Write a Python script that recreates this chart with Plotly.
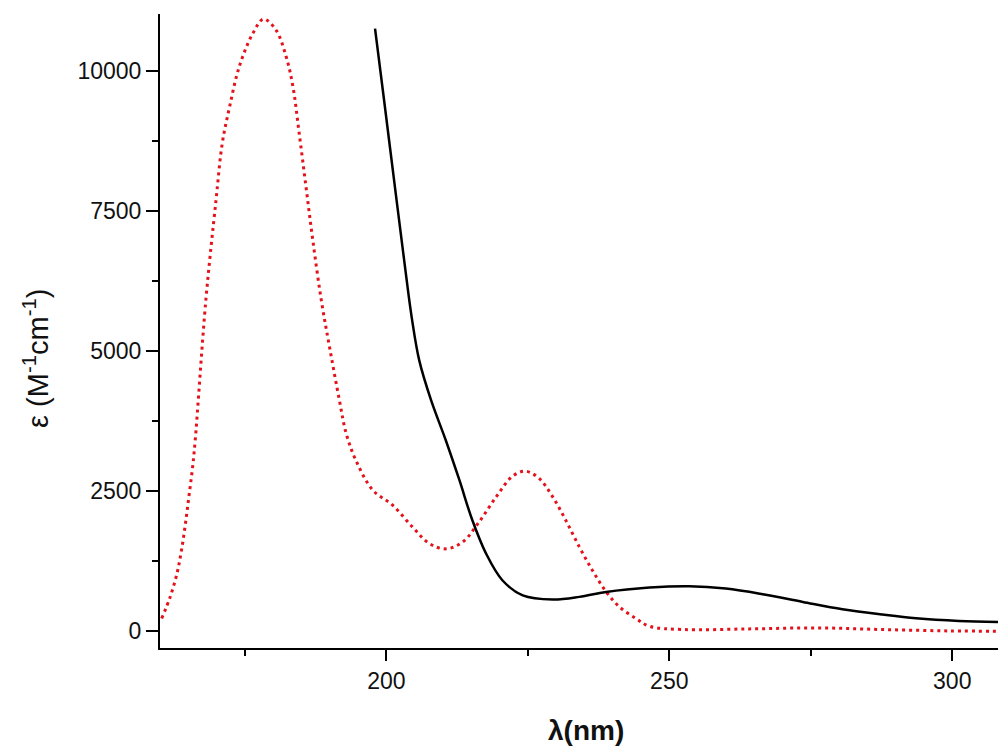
import plotly.graph_objects as go

# black solid spectrum (lambda in nm, epsilon in M^-1 cm^-1)
wl_black = [198.0, 199.6, 201.8, 203.3, 204.5, 205.8, 207.9, 210.5, 212.9, 215.2,
            217.6, 220.5, 224.1, 229.4, 234.1, 238.8, 246.5, 253.5, 260.0, 266.5,
            273.6, 280.6, 287.7, 293.6, 301.2, 309.4]
eps_black = [10760, 9480, 7700, 6500, 5590, 4840, 4125, 3410, 2700, 1980,
             1390, 910, 640, 566, 613, 700, 780, 804, 762, 661,
             523, 393, 298, 232, 184, 161]

# red dotted spectrum
wl_red = [160.3, 161.8, 163.0, 163.8, 164.5, 165.1, 165.7, 166.2, 168.1, 169.9, 171.0,
          172.3, 174.0, 176.4, 178.3, 180.5, 182.3, 183.5, 184.6, 185.8, 187.0,
          188.5, 190.0, 191.7, 192.9, 194.6, 197.6, 201.1, 204.6, 207.6, 210.5,
          213.5, 216.4, 219.4, 222.3, 224.6, 227.0, 229.4, 231.7, 234.1, 236.4,
          238.8, 241.2, 244.1, 246.5, 252.4, 264.1, 275.9, 287.7, 299.5, 309.4]
eps_red = [227, 613, 1030, 1446, 1923, 2398, 2875, 3380, 5911, 7696, 8709,
           9363, 10077, 10673, 10930, 10732, 10256, 9720, 8887, 7934, 6982,
           5911, 5050, 4125, 3530, 3054, 2518, 2250, 1863, 1566, 1470,
           1595, 1952, 2398, 2768, 2857, 2727, 2398, 1982, 1505, 1089,
           710, 434, 227, 89, 30, 41, 59, 30, 5, 0]

x_title = "λ(nm)"
y_title = "ε (M<sup>-1</sup>cm<sup>-1</sup>)"

fig = go.Figure()

fig.add_trace(go.Scatter(x=wl_red, y=eps_red, mode="lines",
                         line={"color": "#e3121b", "width": 3, "dash": "3px,4px", "shape": "spline"},
                         showlegend=False))
fig.add_trace(go.Scatter(x=wl_black, y=eps_black, mode="lines",
                         line={"color": "black", "width": 2.5, "shape": "spline"},
                         showlegend=False))

tickfont = {"family": "Liberation Sans, Arial", "size": 23, "color": "#111"}

# page body has an 8px margin, so the figure is made 8px smaller and shifted
fig.update_layout(
    width=998, height=740,
    margin={"l": 152, "r": 0, "t": 6, "b": 100},
    paper_bgcolor="white", plot_bgcolor="white",
    xaxis=dict(range=[160, 309.5], showgrid=False, zeroline=False,
               showline=True, linecolor="black", linewidth=2,
               ticks="outside", ticklen=11, tickwidth=2, tickcolor="black",
               tick0=200, dtick=50, tickfont=tickfont,
               minor=dict(dtick=25, tick0=200, ticks="outside", ticklen=6, tickwidth=2, tickcolor="black")),
    yaxis=dict(range=[-300, 11020], showgrid=False, zeroline=False,
               showline=True, linecolor="black", linewidth=2,
               ticks="outside", ticklen=12, tickwidth=2, tickcolor="black",
               tick0=0, dtick=2500, tickformat="d", tickfont=tickfont,
               minor=dict(dtick=1250, ticks="outside", ticklen=6, tickwidth=2, tickcolor="black")),
    annotations=[
        dict(text=x_title, xref="paper", yref="paper", x=0.503, y=0,
             xanchor="center", yanchor="middle", yshift=-82, showarrow=False,
             font={"family": "Liberation Sans, Arial", "size": 28, "color": "#111", "weight": "bold"}),
        dict(text=y_title, xref="paper", yref="paper", x=0, y=0.456,
             xanchor="center", yanchor="middle", xshift=-124, textangle=-90, showarrow=False,
             font={"family": "Liberation Sans, Arial", "size": 29, "color": "#111"}),
    ],
)

fig.write_html("out.html")
